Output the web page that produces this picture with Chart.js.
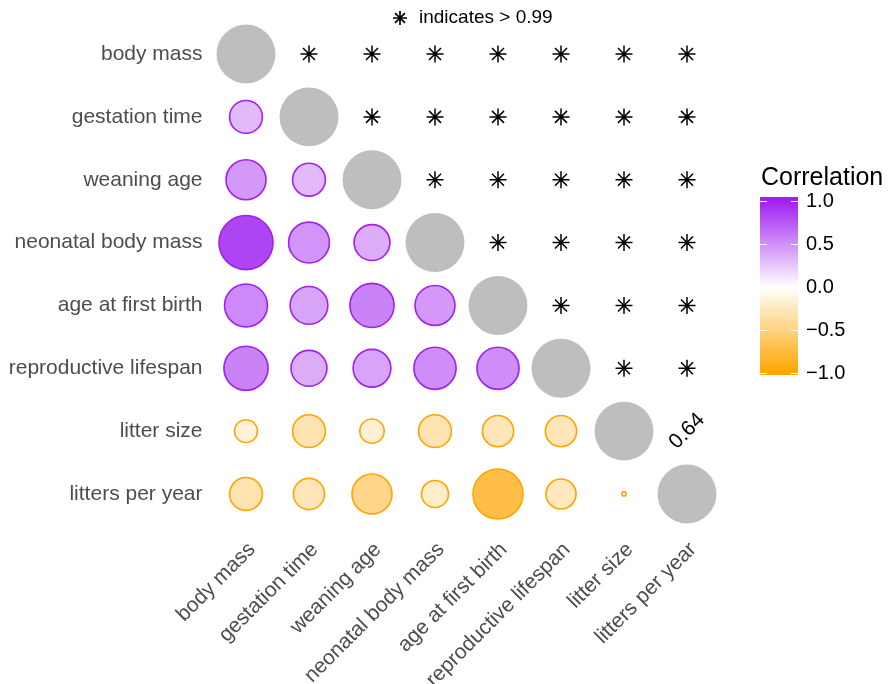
<!DOCTYPE html>
<html>
<head>
<meta charset="utf-8">
<script src="https://cdn.jsdelivr.net/npm/chart.js@4/dist/chart.umd.min.js"></script>
<style>
  html, body { margin: 0; padding: 0; background: #ffffff; }
  #wrap { width: 888px; height: 684px; }
</style>
</head>
<body>
<div id="wrap"><canvas id="corr" width="888" height="684"></canvas></div>
<script>
// Variables shown on both axes, in order
const variables = [
  'body mass', 'gestation time', 'weaning age', 'neonatal body mass',
  'age at first birth', 'reproductive lifespan', 'litter size', 'litters per year'
];

// Lower-triangle correlations: each row against the variables listed before it
const rBodyMass        = [];
const rGestation       = [0.31];
const rWeaning         = [0.46, 0.31];
const rNeonatal        = [0.84, 0.48, 0.37];
const rFirstBirth      = [0.53, 0.41, 0.56, 0.46];
const rLifespan        = [0.56, 0.37, 0.41, 0.51, 0.51];
const rLitterSize      = [-0.15, -0.31, -0.17, -0.31, -0.28, -0.28];
const rLittersPerYear  = [-0.31, -0.28, -0.46, -0.21, -0.72, -0.26, -0.005];

// Upper triangle: a star marks every value above the threshold; one cell is printed
const starThreshold = 0.99;
const printedCell = { row: 'litter size', col: 'litters per year', value: 0.64 };

// Colour bar ticks
const legendTicks = [1.0, 0.5, 0.0, -0.5, -1.0];

const lowerRows = [rBodyMass, rGestation, rWeaning, rNeonatal, rFirstBirth, rLifespan, rLitterSize, rLittersPerYear];

const POS = [160, 32, 240];   // purple end of the scale
const NEG = [255, 165, 0];    // orange end of the scale
const FONT = "'Liberation Sans', Arial, sans-serif";

function mix(end, t) {
  const c = end.map(e => Math.round(255 + (e - 255) * t));
  return `rgb(${c[0]},${c[1]},${c[2]})`;
}
function fillFor(r) { return mix(r >= 0 ? POS : NEG, Math.min(1, Math.abs(r))); }
function strokeFor(r) { return r >= 0 ? 'rgb(160,32,240)' : 'rgb(255,165,0)'; }

// Full-size circle radius derived from the cell size of the category scale
function cellRadius(chart) {
  const xs = chart.scales.x;
  if (!xs || !xs.width) return 29.5;
  return xs.width / variables.length * 0.468;
}

const diagonal = variables.map(v => ({ x: v, y: v }));

const lowerCells = [];
lowerRows.forEach((row, i) => {
  row.forEach((val, j) => lowerCells.push({ x: variables[j], y: variables[i], v: val }));
});

const starCells = [];
variables.forEach((rowName, i) => {
  variables.forEach((colName, j) => {
    if (j <= i) return;
    if (rowName === printedCell.row && colName === printedCell.col) return;
    starCells.push({ x: colName, y: rowName });
  });
});

const tickFont = { family: FONT, size: 21 };

const overlay = {
  id: 'overlay',
  afterDraw(chart) {
    const ctx = chart.ctx;
    const xs = chart.scales.x, ys = chart.scales.y;

    // printed value in the upper triangle
    ctx.save();
    ctx.translate(xs.getPixelForValue(variables.indexOf(printedCell.col)),
                  ys.getPixelForValue(variables.indexOf(printedCell.row)));
    ctx.rotate(-Math.PI / 4);
    ctx.fillStyle = '#000000';
    ctx.font = `21px ${FONT}`;
    ctx.textAlign = 'center';
    ctx.textBaseline = 'middle';
    ctx.fillText(printedCell.value.toFixed(2), 0, 0);
    ctx.restore();

    // caption for the star symbol
    ctx.save();
    ctx.strokeStyle = '#000000';
    ctx.lineWidth = 1.7;
    Chart.helpers.drawPoint(ctx, { pointStyle: 'star', radius: 7, borderWidth: 1.7 }, 400, 18);
    ctx.fillStyle = '#000000';
    ctx.font = `19px ${FONT}`;
    ctx.textAlign = 'left';
    ctx.textBaseline = 'middle';
    ctx.fillText('indicates > ' + starThreshold.toFixed(2), 419, 18);
    ctx.restore();

    // colour bar
    const barL = 760, barR = 798, barT = 197, barB = 375;
    const yTop = 201, yBot = 373;
    const yOf = v => yTop + (1 - v) / 2 * (yBot - yTop);
    ctx.save();
    const g = ctx.createLinearGradient(0, yTop, 0, yBot);
    g.addColorStop(0, mix(POS, 1));
    g.addColorStop(0.25, mix(POS, 0.5));
    g.addColorStop(0.5, '#ffffff');
    g.addColorStop(0.75, mix(NEG, 0.5));
    g.addColorStop(1, mix(NEG, 1));
    ctx.fillStyle = g;
    ctx.fillRect(barL, barT, barR - barL, barB - barT);
    ctx.strokeStyle = '#ffffff';
    ctx.lineWidth = 1;
    ctx.fillStyle = '#000000';
    ctx.font = `20px ${FONT}`;
    ctx.textAlign = 'left';
    ctx.textBaseline = 'middle';
    legendTicks.forEach(v => {
      const y = Math.round(yOf(v)) + 0.5;
      ctx.beginPath();
      ctx.moveTo(barL, y); ctx.lineTo(barL + 7, y);
      ctx.moveTo(barR - 7, y); ctx.lineTo(barR, y);
      ctx.stroke();
      const txt = (v < 0 ? '\u2212' : '') + Math.abs(v).toFixed(1);
      ctx.fillText(txt, 806, yOf(v));
    });
    ctx.font = `25px ${FONT}`;
    ctx.fillText('Correlation', 761, 178);
    ctx.restore();
  }
};

new Chart(document.getElementById('corr'), {
  type: 'scatter',
  data: {
    datasets: [
      {
        label: 'diagonal',
        data: diagonal,
        pointRadius: ctx => cellRadius(ctx.chart),
        backgroundColor: '#bebebe',
        borderWidth: 0
      },
      {
        label: 'correlation',
        data: lowerCells,
        pointRadius: ctx => {
          const raw = ctx.raw;
          if (!raw) return 0;
          return Math.max(1.5, cellRadius(ctx.chart) * Math.sqrt(Math.abs(raw.v)));
        },
        backgroundColor: ctx => ctx.raw ? fillFor(ctx.raw.v) : '#fff',
        borderColor: ctx => ctx.raw ? strokeFor(ctx.raw.v) : '#000',
        borderWidth: 1.6
      },
      {
        label: 'stars',
        data: starCells,
        pointStyle: 'star',
        pointRadius: 8.5,
        borderColor: '#000000',
        backgroundColor: '#000000',
        borderWidth: 1.5
      }
    ]
  },
  options: {
    responsive: false,
    animation: false,
    events: [],
    layout: { autoPadding: false, padding: { left: 0, right: 169.5, top: 22.6, bottom: 0 } },
    plugins: { legend: { display: false }, tooltip: { enabled: false } },
    scales: {
      x: {
        type: 'category',
        labels: variables,
        offset: true,
        position: 'bottom',
        grid: { display: false, drawTicks: false },
        border: { display: false },
        ticks: { font: tickFont, color: '#4d4d4d', minRotation: 45, maxRotation: 45, padding: 12, labelOffset: 6, autoSkip: false },
        afterFit(axis) { axis.height = 158.6; axis.paddingLeft = 0; axis.paddingRight = 0; }
      },
      y: {
        type: 'category',
        labels: variables,
        offset: true,
        position: 'left',
        grid: { display: false, drawTicks: false },
        border: { display: false },
        ticks: { font: tickFont, color: '#4d4d4d', padding: 12, autoSkip: false },
        afterFit(axis) { axis.width = 214.5; axis.paddingTop = 0; axis.paddingBottom = 0; }
      }
    }
  },
  plugins: [overlay]
});
</script>
</body>
</html>
